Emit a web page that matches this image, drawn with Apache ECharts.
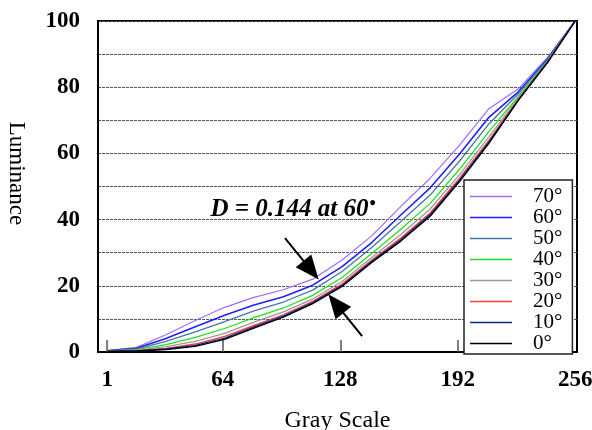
<!DOCTYPE html>
<html>
<head>
<meta charset="utf-8">
<script src="https://cdn.jsdelivr.net/npm/echarts@6/dist/echarts.min.js"></script>
<style>
  html, body { margin: 0; padding: 0; background: #fff; }
  #chart { width: 592px; height: 430px; }
</style>
</head>
<body>
<div id="chart"></div>
<script>
// Gray levels where luminance was measured
const grayLevels = [1, 17, 33, 49, 65, 81, 97, 113, 129, 145, 161, 177, 193, 209, 225, 241, 256];

// Luminance (%) per viewing angle
const lum70 = [0.4, 1.4, 5.2, 9.5, 13.5, 16.5, 18.8, 22.0, 27.8, 35.0, 44.0, 52.5, 62.5, 73.5, 79.5, 89.0, 100];
const lum60 = [0.35, 1.1, 4.1, 7.6, 11.1, 14.2, 16.7, 20.2, 25.8, 33.0, 41.4, 49.6, 59.8, 70.9, 78.6, 88.6, 100];
const lum50 = [0.3, 0.9, 3.2, 6.1, 9.2, 12.4, 15.1, 18.7, 24.3, 31.5, 39.4, 47.4, 57.7, 68.9, 78.0, 88.3, 100];
const lum40 = [0.25, 0.7, 2.2, 4.4, 7.1, 10.4, 13.3, 17.1, 22.5, 29.7, 37.1, 44.9, 55.2, 66.6, 77.2, 88.0, 100];
const lum30 = [0.2, 0.5, 1.6, 3.2, 5.6, 9.0, 12.1, 16.0, 21.3, 28.5, 35.5, 43.2, 53.6, 65.0, 76.7, 87.8, 100];
const lum20 = [0.2, 0.4, 1.1, 2.4, 4.7, 8.0, 11.2, 15.3, 20.5, 27.7, 34.4, 42.0, 52.5, 63.9, 76.3, 87.6, 100];
const lum10 = [0.2, 0.3, 0.9, 2.0, 4.2, 7.6, 10.8, 14.9, 20.1, 27.3, 33.9, 41.5, 51.9, 63.4, 76.1, 87.6, 100];
const lum0  = [0.2, 0.3, 0.7, 1.7, 3.8, 7.2, 10.5, 14.6, 19.8, 27.0, 33.5, 41.0, 51.5, 63.0, 76.0, 87.5, 100];

const angleNames = ['70°', '60°', '50°', '40°', '30°', '20°', '10°', '0°'];
const angleSeries = [lum70, lum60, lum50, lum40, lum30, lum20, lum10, lum0];
const angleColors = ['#a26bff', '#1f1fff', '#4675a6', '#1fe01f', '#9a9a9a', '#ff3c3c', '#082a8c', '#000000'];
const angleWidths = [1.2, 1.6, 1.3, 1.3, 1.3, 1.4, 1.4, 1.3];

// Axis labels
const xTickValues = [1, 64, 128, 192];
const xLabelValues = [1, 64, 128, 192, 256];

// Annotation: text anchor and the two arrows (tail -> head) in data units
const noteText = 'D = 0.144 at 60';
const notePos = [102.3, 43.0];
const arrowUpper = [[97.9, 34.4], [112.1, 24.7]];
const arrowLower = [[139.9, 4.8], [125.6, 14.6]];

const serif = '"Liberation Serif", "Times New Roman", serif';

const series = angleNames.map((name, i) => ({
  name: name,
  type: 'line',
  symbol: 'none',
  z: 2 + i,
  data: grayLevels.map((g, j) => [g, angleSeries[i][j]]),
  lineStyle: { color: angleColors[i], width: angleWidths[i] },
  itemStyle: { color: angleColors[i] },
  emphasis: { disabled: true }
}));

// Annotation drawn on the 60° curve
series[1].markLine = {
  silent: true,
  symbol: ['none', 'triangle'],
  symbolSize: [20, 24],
  lineStyle: { color: '#000', width: 2, type: 'solid' },
  label: { show: false },
  data: [
    [{ coord: arrowUpper[0] }, { coord: arrowUpper[1] }],
    [{ coord: arrowLower[0] }, { coord: arrowLower[1] }]
  ],
  itemStyle: { color: '#000' }
};
series[1].markPoint = {
  silent: true,
  symbol: 'circle',
  symbolSize: 0,
  data: [{ coord: notePos, value: noteText }],
  label: {
    show: true,
    position: 'inside',
    formatter: () => '{t|' + noteText + '}{s|•}',
    rich: {
      t: { fontFamily: serif, fontWeight: 'bold', fontStyle: 'italic', fontSize: 25, color: '#000' },
      s: { fontFamily: serif, fontWeight: 'bold', fontSize: 18, color: '#000', verticalAlign: 'top', padding: [0, 0, 10, 1] }
    }
  }
};

const chart = echarts.init(document.getElementById('chart'), null, { renderer: 'canvas' });
chart.setOption({
  animation: false,
  backgroundColor: '#fff',
  grid: {
    left: 98, right: 15, top: 21, bottom: 78,
    containLabel: false, outerBoundsMode: 'none',
    show: true, borderColor: '#000', borderWidth: 2, backgroundColor: '#fff'
  },
  legend: {
    orient: 'vertical',
    left: 464, top: 180,
    padding: [6, 10, 0, 6],
    icon: 'rect',
    itemWidth: 42, itemHeight: 1.6, itemGap: 0,
    backgroundColor: '#fff',
    borderColor: '#222', borderWidth: 1.5,
    data: angleNames,
    textStyle: { fontFamily: serif, fontSize: 21, color: '#000', lineHeight: 18.6, padding: [0, 0, 0, 16] }
  },
  xAxis: {
    type: 'value', min: -4, max: 257,
    axisLine: { show: true, onZero: false, lineStyle: { color: '#000', width: 2 } },
    axisTick: { show: true, inside: true, length: 12, customValues: xTickValues, lineStyle: { color: '#555', width: 1.5 } },
    axisLabel: { customValues: xLabelValues, fontFamily: serif, fontWeight: 'bold', fontSize: 23, color: '#000', margin: 17 },
    splitLine: { show: false },
    name: 'Gray Scale', nameLocation: 'middle', nameGap: 57,
    nameTextStyle: { fontFamily: serif, fontSize: 24, color: '#000' }
  },
  yAxis: {
    type: 'value', min: 0, max: 100, interval: 10,
    axisLine: { show: true, onZero: false, lineStyle: { color: '#000', width: 2 } },
    axisTick: { show: false },
    axisLabel: {
      formatter: v => (v % 20 === 0 ? String(v) : ''),
      fontFamily: serif, fontWeight: 'bold', fontSize: 23, color: '#000', margin: 18
    },
    splitLine: { show: true, lineStyle: { color: '#555', width: 1, type: [3, 1] } },
    name: 'Luminance', nameLocation: 'middle', nameGap: 70, nameRotate: -90,
    nameTextStyle: { fontFamily: serif, fontSize: 23, color: '#000', padding: [0, 26, 0, 0] }
  },
  series: series
});
</script>
</body>
</html>
